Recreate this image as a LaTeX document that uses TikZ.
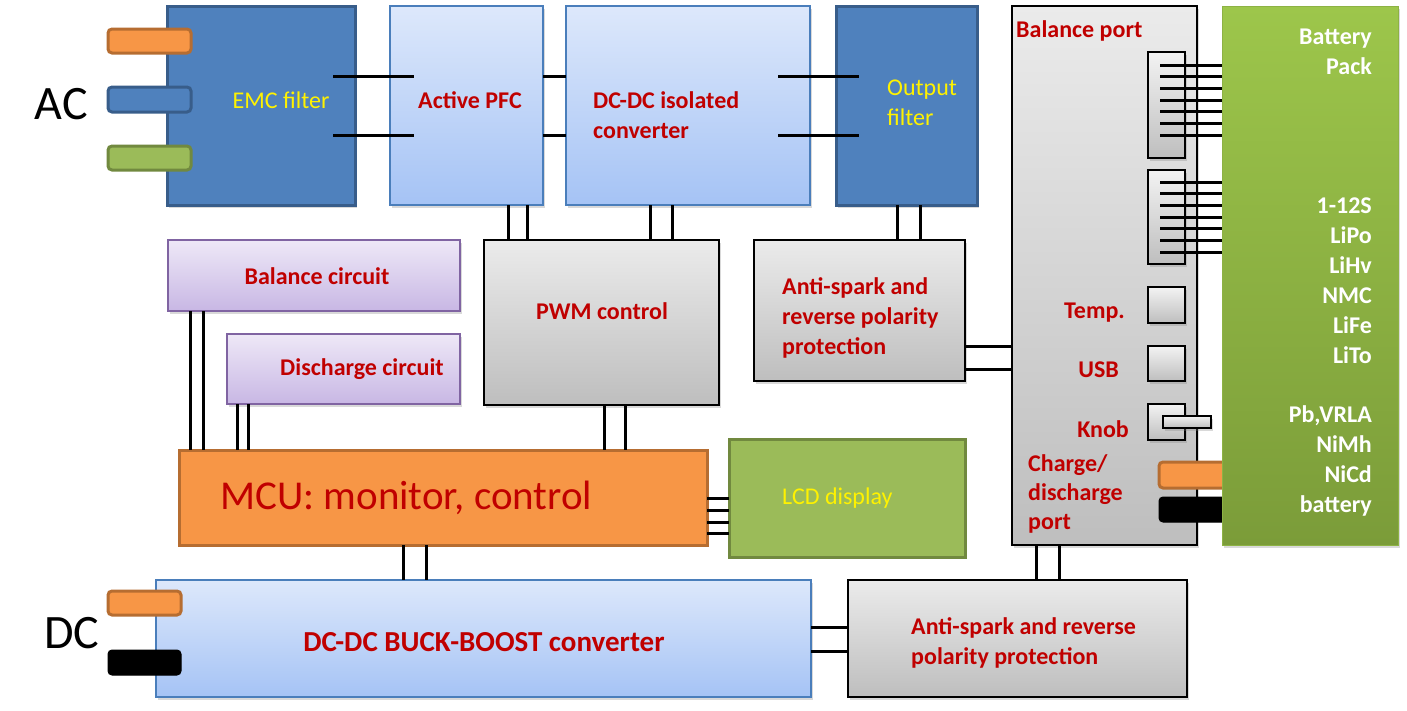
\documentclass[tikz,border=0pt]{standalone}
\usepackage{fontspec}
\setmainfont{Carlito}
\usetikzlibrary{shadows}
\definecolor{bfill}{HTML}{4F81BD}
\definecolor{bdark}{HTML}{385D8A}
\definecolor{lbtop}{HTML}{DDE8FB}
\definecolor{lbbot}{HTML}{A5C3F5}
\definecolor{lbdraw}{HTML}{4A7EBB}
\definecolor{gtop}{HTML}{EBEBEB}
\definecolor{gbot}{HTML}{BEBEBE}
\definecolor{ptop}{HTML}{EEE8F7}
\definecolor{pbot}{HTML}{C8B7E4}
\definecolor{pdraw}{HTML}{8064A2}
\definecolor{ofill}{HTML}{F79646}
\definecolor{odark}{HTML}{B66D31}
\definecolor{gfill}{HTML}{9BBB59}
\definecolor{gdark}{HTML}{71893F}
\definecolor{battop}{HTML}{9DC64B}
\definecolor{batbot}{HTML}{7B9C39}
\definecolor{tred}{HTML}{C00000}
\begin{document}
\begin{tikzpicture}[x=1pt,y=-1pt,
  box/.style={rectangle, inner sep=0pt, outer sep=0pt},
  sz/.style 2 args={minimum width=#1pt, minimum height=#2pt},
  shd/.style={drop shadow={opacity=0.3, shadow xshift=2pt, shadow yshift=-2.5pt}},
  dblue/.style={box, fill=bfill, draw=bdark, line width=3pt},
  lblue/.style={box, top color=lbtop, bottom color=lbbot, draw=lbdraw, line width=2pt},
  graybox/.style={box, top color=gtop, bottom color=gbot, draw=black, line width=2.5pt},
  port/.style={box, top color=gtop!60!white, bottom color=gbot, draw=black, line width=2pt},
  purp/.style={box, top color=ptop, bottom color=pbot, draw=pdraw, line width=2pt},
  mcubox/.style={box, fill=ofill, draw=odark, line width=3pt},
  lcdbox/.style={box, fill=gfill, draw=gdark, line width=3pt},
  battbox/.style={box, top color=battop, bottom color=batbot, draw=battop!90!black, line width=1pt},
  plugo/.style={box, rounded corners=4pt, fill=ofill, draw=odark, line width=3pt},
  plugb/.style={box, rounded corners=4pt, fill=bfill, draw=bdark, line width=3pt},
  plugg/.style={box, rounded corners=4pt, fill=gfill, draw=gdark, line width=3pt},
  plugk/.style={box, rounded corners=4pt, fill=black, draw=black, line width=1pt},
  wire/.style={line width=3pt, black},
  rt/.style={inner sep=0pt, text=tred, font=\fontsize{24}{30}\selectfont\bfseries},
  yt/.style={inner sep=0pt, text=yellow, font=\fontsize{24}{30}\selectfont},
  wt/.style={inner sep=0pt, text=white, font=\fontsize{24}{30}\selectfont\bfseries},
  big/.style={inner sep=0pt, text=black, font=\fontsize{48}{58}\selectfont}
]
\useasboundingbox (0,0) rectangle (1407,710);

% top row
\node[dblue, sz={188}{199}, shd] (emc) at (261,105.5) {};
\node[lblue, sz={153}{199}, shd] (pfc) at (466.5,105.5) {};
\node[lblue, sz={244}{199}, shd] (dcdc) at (688,105.5) {};
\node[dblue, sz={141}{199}, shd] (outf) at (906.5,105.5) {};

% AC plugs
\node[plugo, sz={83}{24}] (aco) at (149.5,41) {};
\node[plugb, sz={83}{25}] (acb) at (149.5,99.5) {};
\node[plugg, sz={83}{24}] (acg) at (149.5,158) {};

% middle
\node[graybox, sz={235}{165}, shd] (pwm) at (601.5,322.5) {};
\node[graybox, sz={211}{141}, shd] (as1) at (859.5,310.5) {};
\node[purp, sz={292}{71}, shd] (bal) at (314,275.5) {};
\node[purp, sz={233}{70}, shd] (dis) at (343.5,369) {};

% balance port
\node[graybox, sz={185}{539}, shd] (bport) at (1104.5,275.5) {};
\node[port, sz={37}{106}, shd] (c1) at (1166.5,105) {};
\node[port, sz={37}{94}, shd] (c2) at (1166.5,217) {};
\node[port, sz={37}{36}, shd] (temp) at (1166.5,305) {};
\node[port, sz={37}{35}, shd] (usb) at (1166.5,363.5) {};
\node[port, sz={37}{36}, shd] (knob) at (1166.5,422) {};
\node[port, sz={48}{12}, shd] (knobbar) at (1187,422) {};
\node[plugo, sz={73}{26}] (cpo) at (1195.5,475) {};
\node[plugk, sz={73}{25}] (cpk) at (1195.5,509.5) {};

% battery
\node[battbox, sz={176}{539}, shd] (batt) at (1310,275.5) {};

% bottom
\node[mcubox, sz={528}{95}] (mcu) at (443,497.5) {};
\node[lcdbox, sz={236}{118}] (lcd) at (847,498) {};
\node[lblue, sz={655}{117}, shd] (buck) at (483.5,638.5) {};
\node[graybox, sz={339}{117}, shd] (as2) at (1017.5,638.5) {};
\node[plugo, sz={73}{24}] (dco) at (144.5,603) {};
\node[plugk, sz={73}{25}] (dck) at (144.5,662.5) {};

% wires
\foreach \dy in {29.5,-29.5} {
  \draw[wire] ([xshift=-22pt,yshift=\dy pt]emc.east) -- ([xshift=24pt,yshift=\dy pt]pfc.west);
  \draw[wire] ([yshift=\dy pt]pfc.east) -- ([yshift=\dy pt]dcdc.west);
  \draw[wire] ([xshift=-32pt,yshift=\dy pt]dcdc.east) -- ([xshift=23pt,yshift=\dy pt]outf.west);
}
\foreach \dx in {41.5,60.5}
  \draw[wire] ([xshift=\dx pt]pfc.south) -- ([xshift=\dx pt]pfc.south |- pwm.north);
\foreach \dx in {-38,-16}
  \draw[wire] ([xshift=\dx pt]dcdc.south) -- ([xshift=\dx pt]dcdc.south |- pwm.north);
\foreach \dx in {-9.5,13.5}
  \draw[wire] ([xshift=\dx pt]outf.south) -- ([xshift=\dx pt]outf.south |- as1.north);
\foreach \dx in {2.5,23.5}
  \draw[wire] ([xshift=\dx pt]pwm.south) -- ([xshift=\dx pt]pwm.south |- mcu.north);
\foreach \dx in {-124,-111}
  \draw[wire] ([xshift=\dx pt]bal.south) -- ([xshift=\dx pt]bal.south |- mcu.north);
\foreach \dx in {-106.5,-95.5}
  \draw[wire] ([xshift=\dx pt]dis.south) -- ([xshift=\dx pt]dis.south |- mcu.north);
\foreach \dx in {-40,-17}
  \draw[wire] ([xshift=\dx pt]mcu.south) -- ([xshift=\dx pt]mcu.south |- buck.north);
\foreach \dx in {-68.5,-45.5}
  \draw[wire] ([xshift=\dx pt]bport.south) -- ([xshift=\dx pt]bport.south |- as2.north);
\foreach \dy in {-35.5,-58.5}
  \draw[wire] ([yshift=\dy pt]as1.east) -- ([yshift=\dy pt]as1.east -| bport.west);
\foreach \dy in {-0.5,-12.5,-24.5,-35.5}
  \draw[wire] ([yshift=\dy pt]mcu.east) -- ([yshift=\dy pt]mcu.east -| lcd.west);
\foreach \dy in {11.5,-12.5}
  \draw[wire] ([yshift=\dy pt]buck.east) -- ([yshift=\dy pt]buck.east -| as2.west);
\foreach \y in {65,76.7,88.3,100,111.7,123.3,135}
  \draw[wire] (c1.west |- 0,\y) ++(12,0) -- (batt.west |- 0,\y);
\foreach \y in {182,193.7,205.3,217,228.7,240.3,252}
  \draw[wire] (c2.west |- 0,\y) ++(12,0) -- (batt.west |- 0,\y);

% texts
\node[big] (tac) at (61.5,104) {AC};
\node[big] (tdc) at (72,633) {DC};
\node[yt] (temc) at (281,100) {EMC filter};
\node[rt] (tpfc) at (470,100) {Active PFC};
\node[rt, anchor=west, align=left] (tdcdc) at (593,115) {DC-DC isolated\\converter};
\node[yt, anchor=west, align=left] (tout) at (887,103) {Output\\filter};
\node[rt] (tpwm) at (602,311) {PWM control};
\node[rt, anchor=west, align=left] (tas1) at (782,318) {Anti-spark and\\reverse polarity\\protection};
\node[rt, anchor=west] (tbport) at (1016,31) {Balance port};
\node[rt, anchor=east] (ttemp) at (1125,313) {Temp.};
\node[rt, anchor=east] (tusb) at (1119,370) {USB};
\node[rt, anchor=east] (tknob) at (1129,429) {Knob};
\node[rt, anchor=west, align=left, font=\fontsize{24}{29}\selectfont\bfseries] (tcharge) at (1028,494) {Charge/\\discharge\\port};
\node[wt, anchor=east, align=right] (tb1) at (1372,52) {Battery\\Pack};
\node[wt, anchor=east, align=right] (tb2) at (1372,281) {1-12S\\LiPo\\LiHv\\NMC\\LiFe\\LiTo};
\node[wt, anchor=east, align=right] (tb3) at (1372,461) {Pb,VRLA\\NiMh\\NiCd\\battery};
\node[rt] (tbal) at (317,276) {Balance circuit};
\node[rt] (tdis) at (362,369) {Discharge circuit};
\node[rt, anchor=west, font=\fontsize{41}{49}\selectfont] (tmcu) at (220,498) {MCU: monitor, control};
\node[yt, anchor=west] (tlcd) at (782,498) {LCD display};
\node[rt, font=\fontsize{29}{35}\selectfont\bfseries] (tbuck) at (484,642) {DC-DC BUCK-BOOST converter};
\node[rt, anchor=west, align=left] (tas2) at (911,643) {Anti-spark and reverse\\polarity protection};
\end{tikzpicture}
\end{document}
